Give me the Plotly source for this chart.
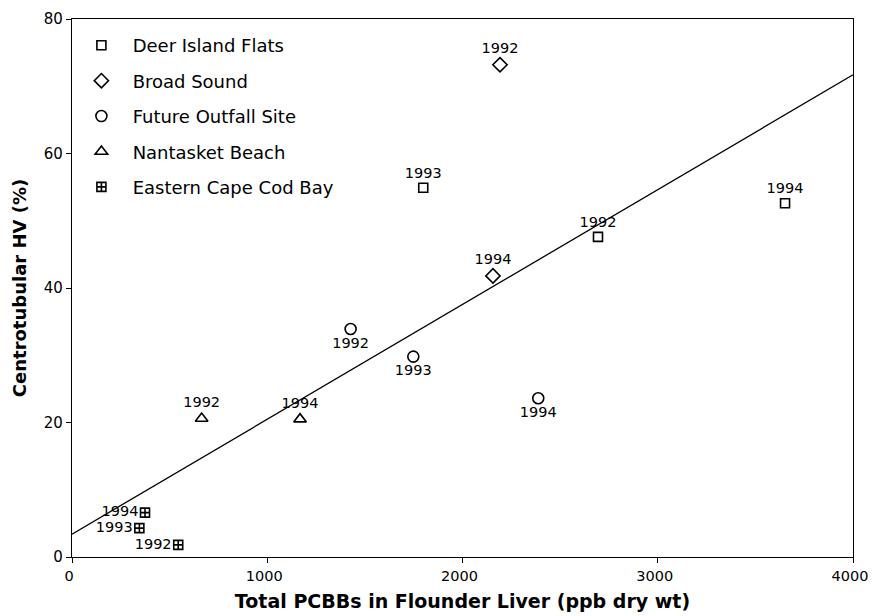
import plotly.graph_objects as go

# Data
deer_x = [2694, 1799, 3652]
deer_y = [47.6, 54.9, 52.6]
deer_lbl = ["1992", "1993", "1994"]

broad_x = [2192, 2156]
broad_y = [73.2, 41.8]
broad_lbl = ["1992", "1994"]

future_x = [1427, 1748, 2388]
future_y = [33.9, 29.8, 23.6]
future_lbl = ["1992", "1993", "1994"]

nant_x = [664, 1168]
nant_y = [20.6, 20.5]
nant_lbl = ["1992", "1994"]

ecc_x = [544, 345, 374]
ecc_y = [1.8, 4.3, 6.6]
ecc_lbl = ["1992", "1993", "1994"]

fit_x = [0, 4000]
fit_y = [3.4, 71.7]

FONT = "DejaVu Sans, Arial, sans-serif"
fig = go.Figure()

fig.add_trace(go.Scatter(x=fit_x, y=fit_y, mode="lines",
                         line=dict(color="black", width=1.3),
                         showlegend=False, hoverinfo="skip"))

series = [
    ("Deer Island Flats", deer_x, deer_y, deer_lbl, "square-open", 9, "top center"),
    ("Broad Sound", broad_x, broad_y, broad_lbl, "diamond-open", 11, "top center"),
    ("Future Outfall Site", future_x, future_y, future_lbl, "circle-open", 11, "bottom center"),
    ("Nantasket Beach", nant_x, nant_y, nant_lbl, "triangle-up-open", 11, "top center"),
    ("Eastern Cape Cod Bay", ecc_x, ecc_y, ecc_lbl, "square-cross-open", 9, "middle left"),
]
for i, (name, xs, ys, lbl, sym, sz, tp) in enumerate(series):
    fig.add_trace(go.Scatter(
        x=xs, y=ys, mode="markers+text", name="\u00a0" + name, text=lbl,
        textposition=tp, textfont=dict(family=FONT, size=14.5, color="black"),
        marker=dict(symbol=sym, size=sz, color="black", line=dict(width=1.6, color="black")),
        legendgroup=f"g{i}",
    ))

fig.update_layout(
    width=872, height=616,
    margin=dict(l=72, r=19, t=19, b=59),
    paper_bgcolor="white", plot_bgcolor="white",
    font=dict(family=FONT, size=15, color="black"),
    legend=dict(x=0.005, y=0.985, xanchor="left", yanchor="top",
                font=dict(family=FONT, size=18, color="black"),
                itemwidth=41,
                bgcolor="rgba(0,0,0,0)", tracegroupgap=9),
    xaxis=dict(range=[0, 4000], tickvals=[0, 1000, 2000, 3000, 4000],
               showgrid=False, zeroline=False, showline=True, linecolor="black",
               linewidth=1.3, mirror=True, ticks="outside", ticklen=5,
               tickcolor="black", tickfont=dict(size=14.5), automargin=False,
               ticklabeloverflow="allow", ticklabelshift=-3,
               title=dict(text="<b>Total PCBBs in Flounder Liver (ppb dry wt)</b>",
                          font=dict(size=19), standoff=12)),
    yaxis=dict(range=[0, 80], tickvals=[0, 20, 40, 60, 80],
               showgrid=False, zeroline=False, showline=True, linecolor="black",
               linewidth=1.3, mirror=True, ticks="outside", ticklen=5,
               tickcolor="black", tickfont=dict(size=15), automargin=False,
               title=dict(text="<b>Centrotubular HV (%)</b>", font=dict(size=18),
                          standoff=12)),
)

# remove the default 8px page margin so the figure fills the window exactly
fig.write_html("out.html", config={"displayModeBar": False},
               post_script="document.body.style.margin='0';document.body.style.overflow='hidden';")
